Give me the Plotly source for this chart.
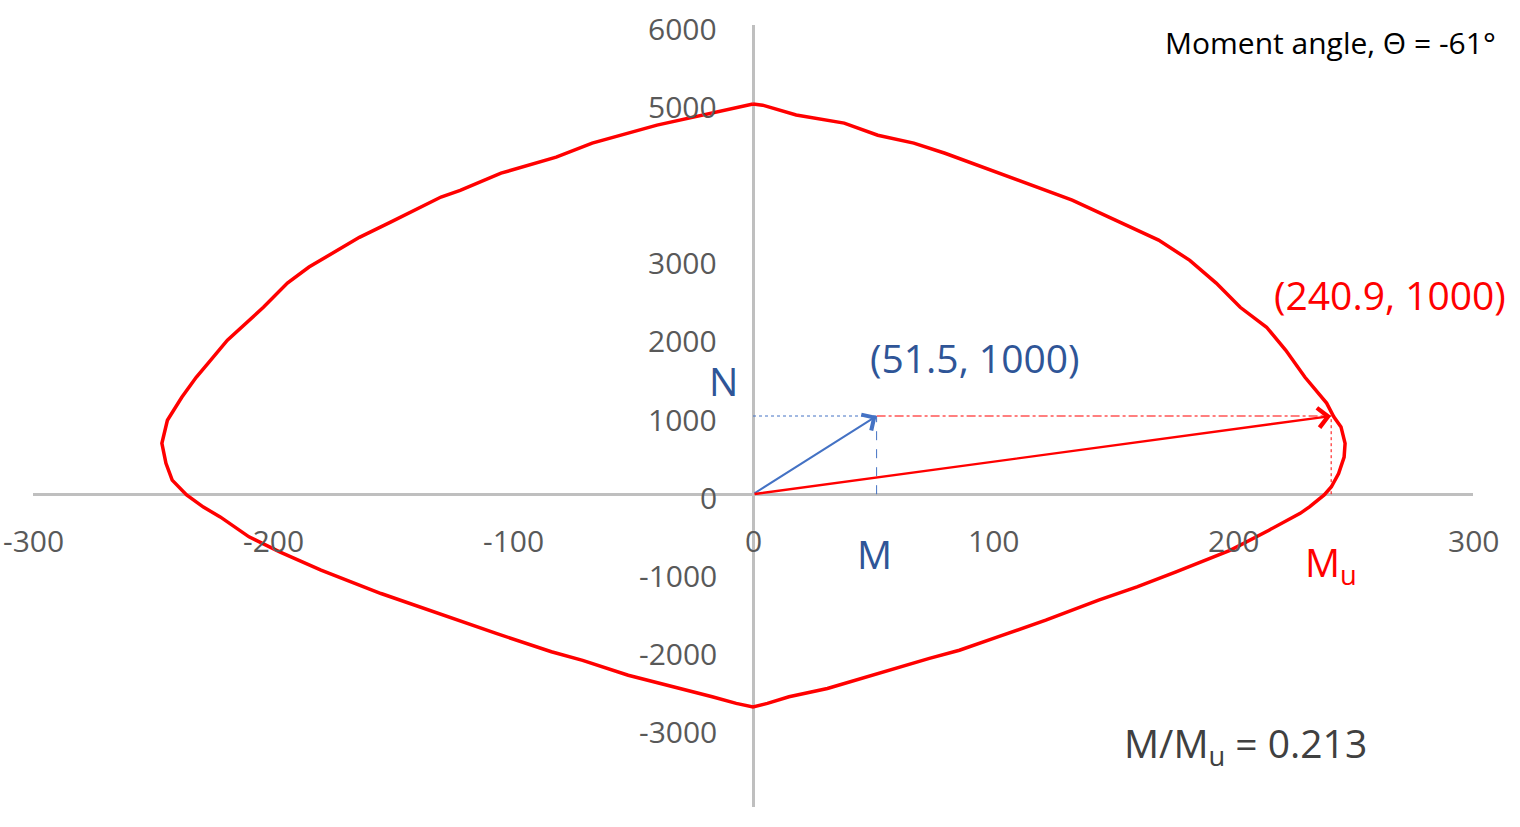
import plotly.graph_objects as go

# interaction diagram (M, N), clockwise from the top
moment = [0, 4, 18, 38, 52, 67, 80, 99, 119, 133, 151, 169, 182, 193, 203, 214, 222, 230, 239, 242,
          245, 246.7, 246.3, 244, 241, 238, 232, 228, 215, 199, 176, 160, 144, 122, 102, 86, 73.5,
          48, 31, 15, 6, 0, -7, -17, -33, -52, -71, -84, -107, -123, -142, -155, -180, -197, -210,
          -222, -229, -236, -242, -244.6, -246.3, -244, -238, -232, -227, -219, -204, -194, -185,
          -175, -164, -151, -130, -122, -105, -82, -67, -40, -18, -3, 0]
axial = [4990, 4975, 4850, 4745, 4590, 4490, 4360, 4145, 3925, 3760, 3505, 3250, 2990, 2700, 2390,
         2135, 1840, 1495, 1165, 990, 860, 650, 475, 265, 95, -10, -160, -245, -460, -715, -995,
         -1185, -1355, -1610, -1825, -1995, -2100, -2335, -2485, -2590, -2675, -2720, -2675, -2590,
         -2465, -2315, -2125, -2015, -1780, -1610, -1400, -1270, -970, -740, -545, -290, -165, -10,
         180, 395, 650, 945, 1240, 1495, 1675, 1970, 2390, 2700, 2905, 3080, 3285, 3480, 3800,
         3885, 4105, 4310, 4490, 4720, 4870, 4975, 4990]

M_applied = 51.5
Mu = 240.9
N_applied = 1000
ratio = 0.213
theta = -61

x_ticks = [-300, -200, -100, 0, 100, 200, 300]
y_ticks = [6000, 5000, 3000, 2000, 1000, 0, -1000, -2000, -3000]

RED = "#FF0000"
BLUE = "#4472C4"
DARKBLUE = "#2F5597"
GREY = "#595959"
FONT = "Open Sans"

fig = go.Figure()

fig.add_trace(go.Scatter(x=moment, y=axial, mode="lines",
                         line=dict(color=RED, width=3.5), hoverinfo="skip"))

# guide lines
fig.add_trace(go.Scatter(x=[0, M_applied], y=[N_applied, N_applied], mode="lines",
                         line=dict(color=BLUE, width=1, dash="dot")))
fig.add_trace(go.Scatter(x=[M_applied, M_applied], y=[0, N_applied], mode="lines",
                         line=dict(color=BLUE, width=1, dash="dash")))
fig.add_trace(go.Scatter(x=[M_applied, Mu], y=[N_applied, N_applied], mode="lines",
                         line=dict(color=RED, width=1.2, dash="dashdot")))
fig.add_trace(go.Scatter(x=[Mu, Mu], y=[0, N_applied], mode="lines",
                         line=dict(color=RED, width=1, dash="dot")))

# arrows
fig.add_annotation(x=M_applied, y=N_applied, ax=0, ay=0, axref="x", ayref="y", text="",
                   showarrow=True, arrowhead=4, arrowsize=1.8, arrowwidth=2, arrowcolor=BLUE,
                   standoff=0)
fig.add_annotation(x=Mu, y=N_applied, ax=0, ay=0, axref="x", ayref="y", text="",
                   showarrow=True, arrowhead=4, arrowsize=1.6, arrowwidth=2.4, arrowcolor=RED,
                   standoff=0)

# tick labels at the crossing axes
for v in x_ticks:
    fig.add_annotation(x=v, y=0, text=str(v), showarrow=False, yshift=-46,
                       font=dict(family=FONT, size=30, color=GREY))
for v in y_ticks:
    fig.add_annotation(x=0, y=v, text=str(v), showarrow=False, xanchor="right", xshift=-34,
                       yshift=-3, font=dict(family=FONT, size=30, color=GREY))

big = dict(family=FONT, size=39)
fig.add_annotation(x=92.5, y=1750, text=f"({M_applied}, {N_applied})", showarrow=False,
                   font=dict(big, color=DARKBLUE))
fig.add_annotation(x=265.4, y=2560, text=f"({Mu}, {N_applied})", showarrow=False,
                   font=dict(big, color=RED))
fig.add_annotation(x=-12.5, y=1460, text="N", showarrow=False, font=dict(big, color=DARKBLUE))
fig.add_annotation(x=50.8, y=-755, text="M", showarrow=False, font=dict(big, color=DARKBLUE))
fig.add_annotation(x=241, y=-890, text="M<sub>u</sub>", showarrow=False, font=dict(big, color=RED))
fig.add_annotation(x=205, y=-3210, text=f"M/M<sub>u</sub> = {ratio}", showarrow=False,
                   font=dict(big, color="#404040"))
fig.add_annotation(x=240.5, y=5780, text=f"Moment angle, \u0398 = {theta}\u00b0", showarrow=False,
                   font=dict(family=FONT, size=30, color="black"))

fig.update_xaxes(range=[-300, 300], showgrid=False, showticklabels=False, ticks="",
                 zeroline=True, zerolinecolor="#BFBFBF", zerolinewidth=2.5)
fig.update_yaxes(range=[-4000, 6000], showgrid=False, showticklabels=False, ticks="",
                 zeroline=True, zerolinecolor="#BFBFBF", zerolinewidth=2.5)
fig.update_layout(width=1520, height=827, margin=dict(l=33, r=47, t=25, b=20),
                  plot_bgcolor="white", paper_bgcolor="white", showlegend=False,
                  font=dict(family=FONT))

# drop the page's default body margin so the chart sits flush in the window
fig.write_html("out.html", config={"displayModeBar": False},
               post_script="document.body.style.margin='0';")
